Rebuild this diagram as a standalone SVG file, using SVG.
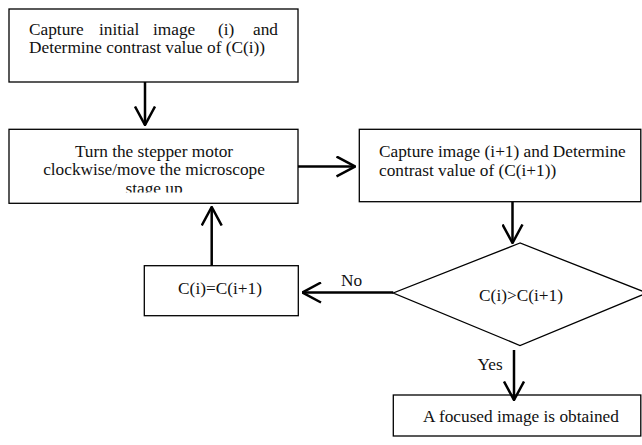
<svg xmlns="http://www.w3.org/2000/svg" width="642" height="445" viewBox="0 0 642 445">
<defs>
<style>
.box{fill:#fff;stroke:#000;stroke-width:1.3}
.t{font-family:"Liberation Serif","Times New Roman",serif;font-size:17.3px;fill:#111}
.c{text-anchor:middle}
.conn{stroke:#000;stroke-width:2.5;fill:none;marker-end:url(#arr)}
</style>
<marker id="arr" markerUnits="userSpaceOnUse" viewBox="0 0 20 22" refX="19" refY="11" markerWidth="20" markerHeight="22" orient="auto">
<path d="M0.5,1 L19,11 L0.5,21" fill="none" stroke="#000" stroke-width="2.5"/>
</marker>
<clipPath id="clip2"><rect x="9" y="129" width="289" height="63.5"/></clipPath>
</defs>
<rect width="642" height="445" fill="#fff"/>
<g id="capture-initial">
<rect class="box" x="9" y="9" width="289" height="73"/>
<text class="t" y="35"><tspan x="29">Capture</tspan> <tspan x="99">initial</tspan> <tspan x="153">image</tspan> <tspan x="218">(i)</tspan> <tspan x="253">and</tspan></text>
<text class="t" x="29" y="52.5">Determine contrast value of (C(i))</text>
</g>
<g id="turn-motor">
<rect class="box" x="9" y="129.3" width="289" height="74"/>
<g clip-path="url(#clip2)">
<text class="t c" x="154" y="156.5">Turn the stepper motor</text>
<text class="t c" x="154" y="175">clockwise/move the microscope</text>
<text class="t c" x="154" y="194">stage up</text>
</g>
</g>
<g id="capture-next">
<rect class="box" x="359.3" y="129.3" width="281.5" height="72.4"/>
<text class="t" x="379" y="157">Capture image (i+1) and Determine</text>
<text class="t" x="379" y="176">contrast value of (C(i+1))</text>
</g>
<g id="decision">
<polygon class="box" points="520,243 393.3,293 520,345.5 647,293"/>
<text class="t c" x="521" y="301">C(i)&gt;C(i+1)</text>
</g>
<g id="update">
<rect class="box" x="144.3" y="265.7" width="154" height="50"/>
<text class="t c" x="220" y="294">C(i)=C(i+1)</text>
</g>
<g id="focused">
<rect class="box" x="393.3" y="395" width="247.5" height="41"/>
<text class="t c" x="521" y="422">A focused image is obtained</text>
</g>
<g id="connectors">
<path class="conn" d="M145,82 V125"/>
<path class="conn" d="M298,166.5 H355"/>
<path class="conn" d="M512.5,202 V243"/>
<path class="conn" d="M393.3,292.5 H302.5"/>
<path class="conn" d="M211.7,265.7 V207"/>
<path class="conn" d="M514,350 V400"/>
<text class="t" x="341" y="285.5">No</text>
<text class="t" x="477.5" y="370">Yes</text>
</g>
</svg>
